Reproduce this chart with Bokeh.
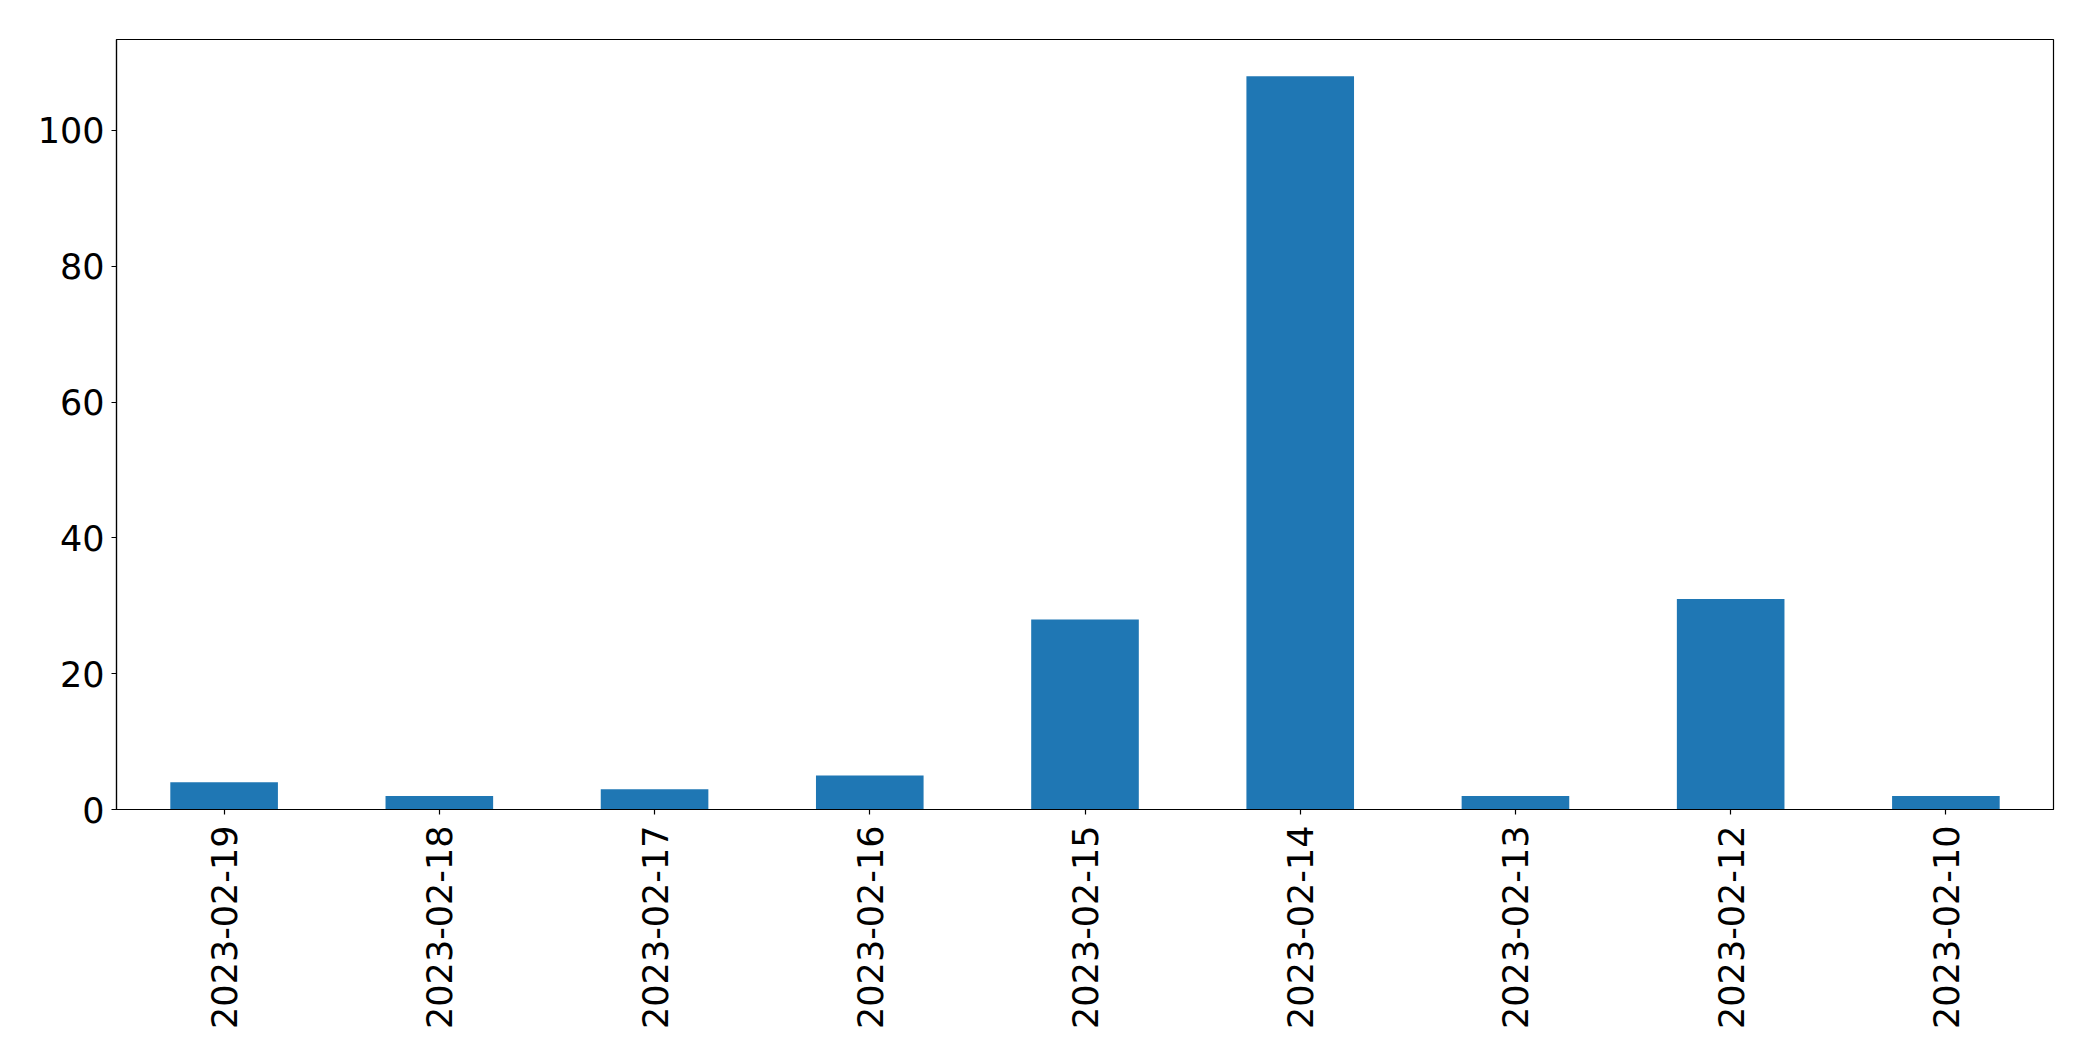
import math
from bokeh.plotting import figure
from bokeh.models import Range1d, FactorRange, FixedTicker, ColumnDataSource
from bokeh.embed import file_html
from bokeh.resources import INLINE

dates = ["2023-02-19", "2023-02-18", "2023-02-17", "2023-02-16", "2023-02-15",
         "2023-02-14", "2023-02-13", "2023-02-12", "2023-02-10"]
counts = [4, 2, 3, 5, 28, 108, 2, 31, 2]
y_ticks = [0, 20, 40, 60, 80, 100]

src = ColumnDataSource(dict(date=dates, count=counts))

p = figure(
    x_range=FactorRange(*dates),
    y_range=Range1d(0, max(counts) * 1.05),
    width=2083, height=1040,
    output_backend="svg", toolbar_location=None,
    min_border_left=116, min_border_right=30, min_border_top=39, min_border_bottom=231,
)
p.vbar(x="date", top="count", width=0.5, source=src, color="#1f77b4", line_color=None)

p.xgrid.visible = False
p.ygrid.visible = False
p.outline_line_color = "black"
p.outline_line_width = 1.2
p.background_fill_color = "white"
p.border_fill_color = "white"
p.x_range.range_padding = 0

for ax in (p.xaxis[0], p.yaxis[0]):
    ax.axis_line_color = "black"
    ax.axis_line_width = 1.2
    ax.major_tick_line_color = "black"
    ax.major_tick_line_width = 1.2
    ax.major_tick_out = 5
    ax.major_tick_in = 0
    ax.minor_tick_line_color = None
    ax.major_label_text_font = "DejaVu Sans"
    ax.major_label_text_font_size = "35px"
    ax.major_label_text_color = "black"

p.yaxis[0].ticker = FixedTicker(ticks=y_ticks)
p.yaxis[0].major_label_standoff = 7
p.xaxis[0].major_label_orientation = math.pi / 2
p.xaxis[0].major_label_standoff = 11
p.xaxis[0].group_text_font_size = "0px"

open("out.html", "w").write(file_html(p, INLINE))
